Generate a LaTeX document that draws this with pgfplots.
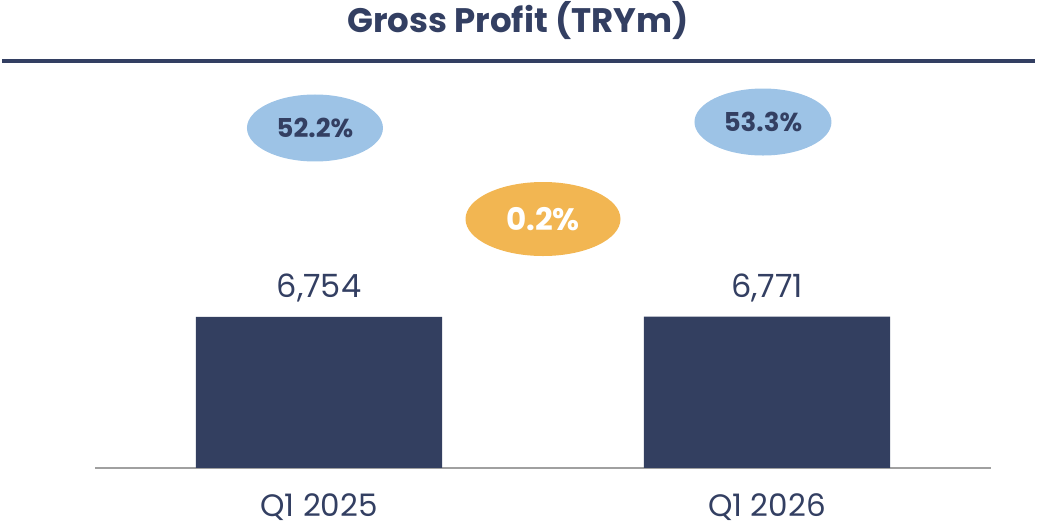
\documentclass[border=0pt]{standalone}
\usepackage{pgfplots}
\pgfplotsset{compat=1.18}
\usepackage{fontspec}
\setmainfont{Poppins}
\usetikzlibrary{shapes.geometric}
\definecolor{navy}{HTML}{333F62}
\definecolor{barnavy}{HTML}{333F60}
\definecolor{lblue}{HTML}{9DC3E6}
\definecolor{gold}{HTML}{F2B652}
\definecolor{axgray}{HTML}{A0A0A0}
\begin{document}
\begin{tikzpicture}
\useasboundingbox (0pt,0pt) rectangle (519pt,264pt);
\node[anchor=base, text=navy, font=\fontsize{17}{19}\selectfont\bfseries, inner sep=0pt] at (259pt,247.5pt) {Gross Profit (TRYm)};
\draw[navy, line width=2pt] (1pt,233.5pt) -- (517.5pt,233.5pt);
\begin{axis}[
  at={(47.5pt,30pt)}, anchor=south west,
  scale only axis, width=448pt, height=100pt,
  xmin=-0.5, xmax=1.5, ymin=0, ymax=8944,
  axis x line*=bottom, axis y line=none,
  x axis line style={axgray, line width=1pt},
  xtick={0,1}, xticklabels={Q1 2025, Q1 2026},
  major tick length=0pt,
  xticklabel style={anchor=base, yshift=-24.5pt, text=navy, font=\fontsize{15.5}{17}\selectfont},
  ytick=\empty,
  clip=false,
  /pgf/number format/assume math mode=true,
  /pgf/number format/1000 sep={,},
  nodes near coords,
  every node near coord/.append style={anchor=base, yshift=9.5pt, text=navy, font=\fontsize{16}{18}\selectfont},
]
\addplot[ybar, bar width=0.55, fill=barnavy, draw=none] coordinates {(0,6754) (1,6771)};
\node[ellipse, fill=lblue, minimum width=68pt, minimum height=33.5pt, inner sep=0pt, text=navy, font=\fontsize{13}{14}\selectfont\bfseries] at (axis cs:-0.009,15205) {52.2\%};
\node[ellipse, fill=lblue, minimum width=68.5pt, minimum height=33.5pt, inner sep=0pt, text=navy, font=\fontsize{13}{14}\selectfont\bfseries] at (axis cs:0.991,15473) {53.3\%};
\node[ellipse, fill=gold, minimum width=77.5pt, minimum height=37pt, inner sep=0pt, text=white, font=\fontsize{15.5}{17}\selectfont\bfseries] at (axis cs:0.5,11135) {0.2\%};
\end{axis}
\end{tikzpicture}
\end{document}
